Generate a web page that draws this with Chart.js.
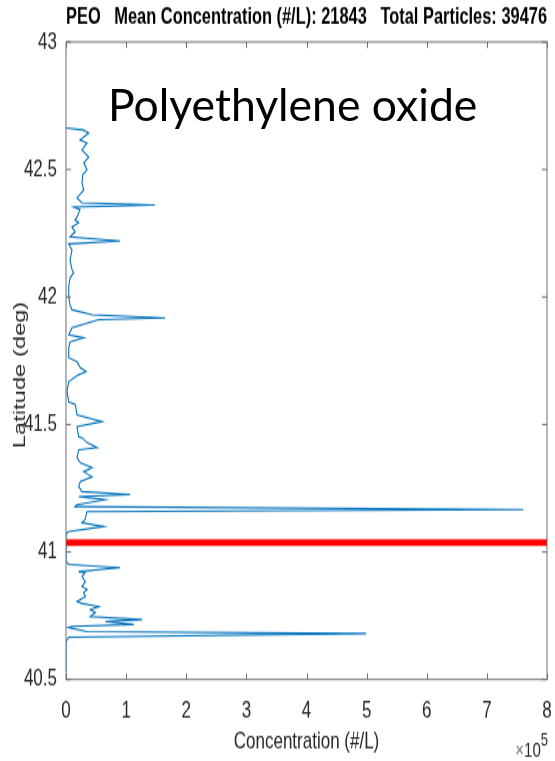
<!DOCTYPE html>
<html><head><meta charset="utf-8">
<script src="https://cdn.jsdelivr.net/npm/chart.js@4/dist/chart.umd.min.js"></script>
<style>
html,body{margin:0;padding:0;background:#fff;width:555px;height:761px;overflow:hidden}
#wrap{position:absolute;left:0;top:0;width:555px;height:544px;transform-origin:0 0;transform:scale(1,1.39890)}
#label{position:absolute;left:108px;top:82px;font-family:Lato,"Open Sans",sans-serif;font-size:44.5px;line-height:1;color:#000;white-space:nowrap}
</style></head><body>
<div id="wrap"><canvas id="c" width="555" height="544"></canvas></div>
<div id="label">Polyethylene oxide</div>
<script>
const chartTitle = 'PEO   Mean Concentration (#/L): 21843   Total Particles: 39476';
const xAxisTitle = 'Concentration (#/L)';
const yAxisTitle = 'Latitude (deg)';
const xTickLabels = ['0','1','2','3','4','5','6','7','8'];
const yTickLabels = ['40.5','41','41.5','42','42.5','43'];
const redLineLatitude = 41.037;

const latitude = [42.663,42.655,42.643,42.616,42.604,42.577,42.549,42.526,42.498,42.479,
42.447,42.420,42.389,42.369,42.361,42.353,42.342,42.314,42.303,42.291,
42.275,42.255,42.236,42.220,42.208,42.185,42.146,42.107,42.095,42.075,
42.040,42.001,41.969,41.950,41.930,41.918,41.911,41.879,41.852,41.840,
41.824,41.801,41.762,41.746,41.723,41.707,41.695,41.668,41.629,41.589,
41.578,41.538,41.511,41.491,41.452,41.448,41.429,41.409,41.401,41.370,
41.350,41.331,41.315,41.295,41.276,41.256,41.237,41.225,41.217,41.205,
41.186,41.178,41.166,41.158,41.127,41.115,41.100,41.080,41.072,40.962,
40.951,40.939,40.923,40.919,40.904,40.884,40.864,40.853,40.841,40.825,
40.806,40.798,40.786,40.774,40.763,40.747,40.735,40.727,40.716,40.708,
40.704,40.688,40.680,40.666,40.649,40.531];

const concentration = [0,28300,37800,23300,34900,26600,37800,29500,34900,27800,
26600,29500,18300,26600,148100,12800,23300,18300,15000,21100,
10000,15000,6700,89900,4500,10000,6700,10000,12800,6700,
4500,4500,6700,10000,43300,164800,54400,10000,4500,29500,
6700,4500,4500,18300,23800,33300,21100,4500,1700,4500,
15500,18300,59900,18300,21100,26600,34900,51600,21100,18300,
23800,43300,29500,43300,23800,21100,26600,106500,21100,64900,
18300,15000,760500,34900,31600,26600,62700,4500,0,0,
4500,89900,21100,31600,26600,32100,26600,34900,29500,32100,
18300,26600,54400,40400,48800,40400,126500,65400,112700,10000,
4500,34900,499200,4500,0,0];

const FONT = '"Liberation Sans", Arial, Helvetica, sans-serif';
const axisColor = '#6e6e6e';
const textColor = '#262626';

const tracePoints = latitude.map((lat, i) => ({x: concentration[i], y: lat}));

const framePlugin = {
  id: 'frame',
  afterDatasetsDraw(chart) {
    const {ctx, chartArea: a, scales: {x, y}} = chart;
    ctx.save();
    ctx.strokeStyle = axisColor;
    ctx.lineWidth = 1;
    ctx.strokeRect(a.left, a.top, a.right - a.left, a.bottom - a.top);
    ctx.beginPath();
    x.ticks.forEach(t => {
      const px = Math.round(x.getPixelForValue(t.value)) + 0.5;
      ctx.moveTo(px, a.bottom); ctx.lineTo(px, a.bottom - 4.3);
      ctx.moveTo(px, a.top); ctx.lineTo(px, a.top + 4.3);
    });
    y.ticks.forEach(t => {
      const py = y.getPixelForValue(t.value);
      ctx.moveTo(a.left, py); ctx.lineTo(a.left + 5, py);
      ctx.moveTo(a.right, py); ctx.lineTo(a.right - 5, py);
    });
    ctx.stroke();
    // y axis title
    ctx.fillStyle = textColor;
    ctx.font = '17px ' + FONT;
    ctx.translate(20, 268);
    ctx.rotate(-Math.PI / 2);
    ctx.textAlign = 'center';
    ctx.textBaseline = 'middle';
    ctx.fillText(yAxisTitle, 0, 0);
    ctx.restore();
    // exponent label
    ctx.save();
    ctx.fillStyle = textColor;
    ctx.textBaseline = 'alphabetic';
    ctx.textAlign = 'right';
    ctx.font = '13px ' + FONT;
    const rightEdge = a.right + 1;
    ctx.fillText('5', rightEdge, 532.5);
    const w5 = ctx.measureText('5').width;
    ctx.font = '15px ' + FONT;
    ctx.fillText('10', rightEdge - w5, 540.7);
    const w10 = ctx.measureText('10').width;
    ctx.fillStyle = '#777';
    ctx.fillText('\u00d7', rightEdge - w5 - w10, 540.7);
    ctx.restore();
  }
};

new Chart(document.getElementById('c'), {
  type: 'scatter',
  data: {
    datasets: [
      {
        data: [{x: 0, y: redLineLatitude}, {x: 800000, y: redLineLatitude}],
        showLine: true, borderColor: '#ff0000', borderWidth: 4.7,
        pointRadius: 0, borderCapStyle: 'butt'
      },
      {
        data: tracePoints,
        showLine: true, borderColor: '#0072BD', borderWidth: 1.1,
        pointRadius: 0, tension: 0
      }
    ]
  },
  options: {
    responsive: false,
    devicePixelRatio: 1,
    animation: false,
    events: [],
    layout: {padding: {left: 0, right: 8, top: 0, bottom: 0}},
    plugins: {
      legend: {display: false},
      tooltip: {enabled: false},
      title: {
        display: true, text: chartTitle, fullSize: false,
        color: '#000', font: {family: FONT, size: 16.5, weight: 'bold', lineHeight: 1.2},
        padding: {top: 2.2, bottom: 8.0}
      }
    },
    scales: {
      x: {
        type: 'linear', min: 0, max: 800000,
        grid: {display: false, drawTicks: true, tickLength: 10},
        border: {display: false},
        ticks: {
          stepSize: 100000, autoSkip: false, maxRotation: 0, padding: 2,
          color: textColor, font: {family: FONT, size: 17},
          callback: (v, i) => xTickLabels[i]
        },
        title: {display: true, text: xAxisTitle, color: textColor,
          font: {family: FONT, size: 17}, padding: {top: 0, bottom: 3}},
        afterFit: s => { s.height = 58.3; }
      },
      y: {
        type: 'linear', min: 40.5, max: 43,
        grid: {display: false, drawTicks: false},
        border: {display: false},
        ticks: {
          stepSize: 0.5, autoSkip: false, padding: 9,
          color: textColor, font: {family: FONT, size: 17},
          callback: (v, i) => yTickLabels[i]
        },
        afterFit: s => { s.width = 66; }
      }
    }
  },
  plugins: [framePlugin]
});
</script>
</body></html>
